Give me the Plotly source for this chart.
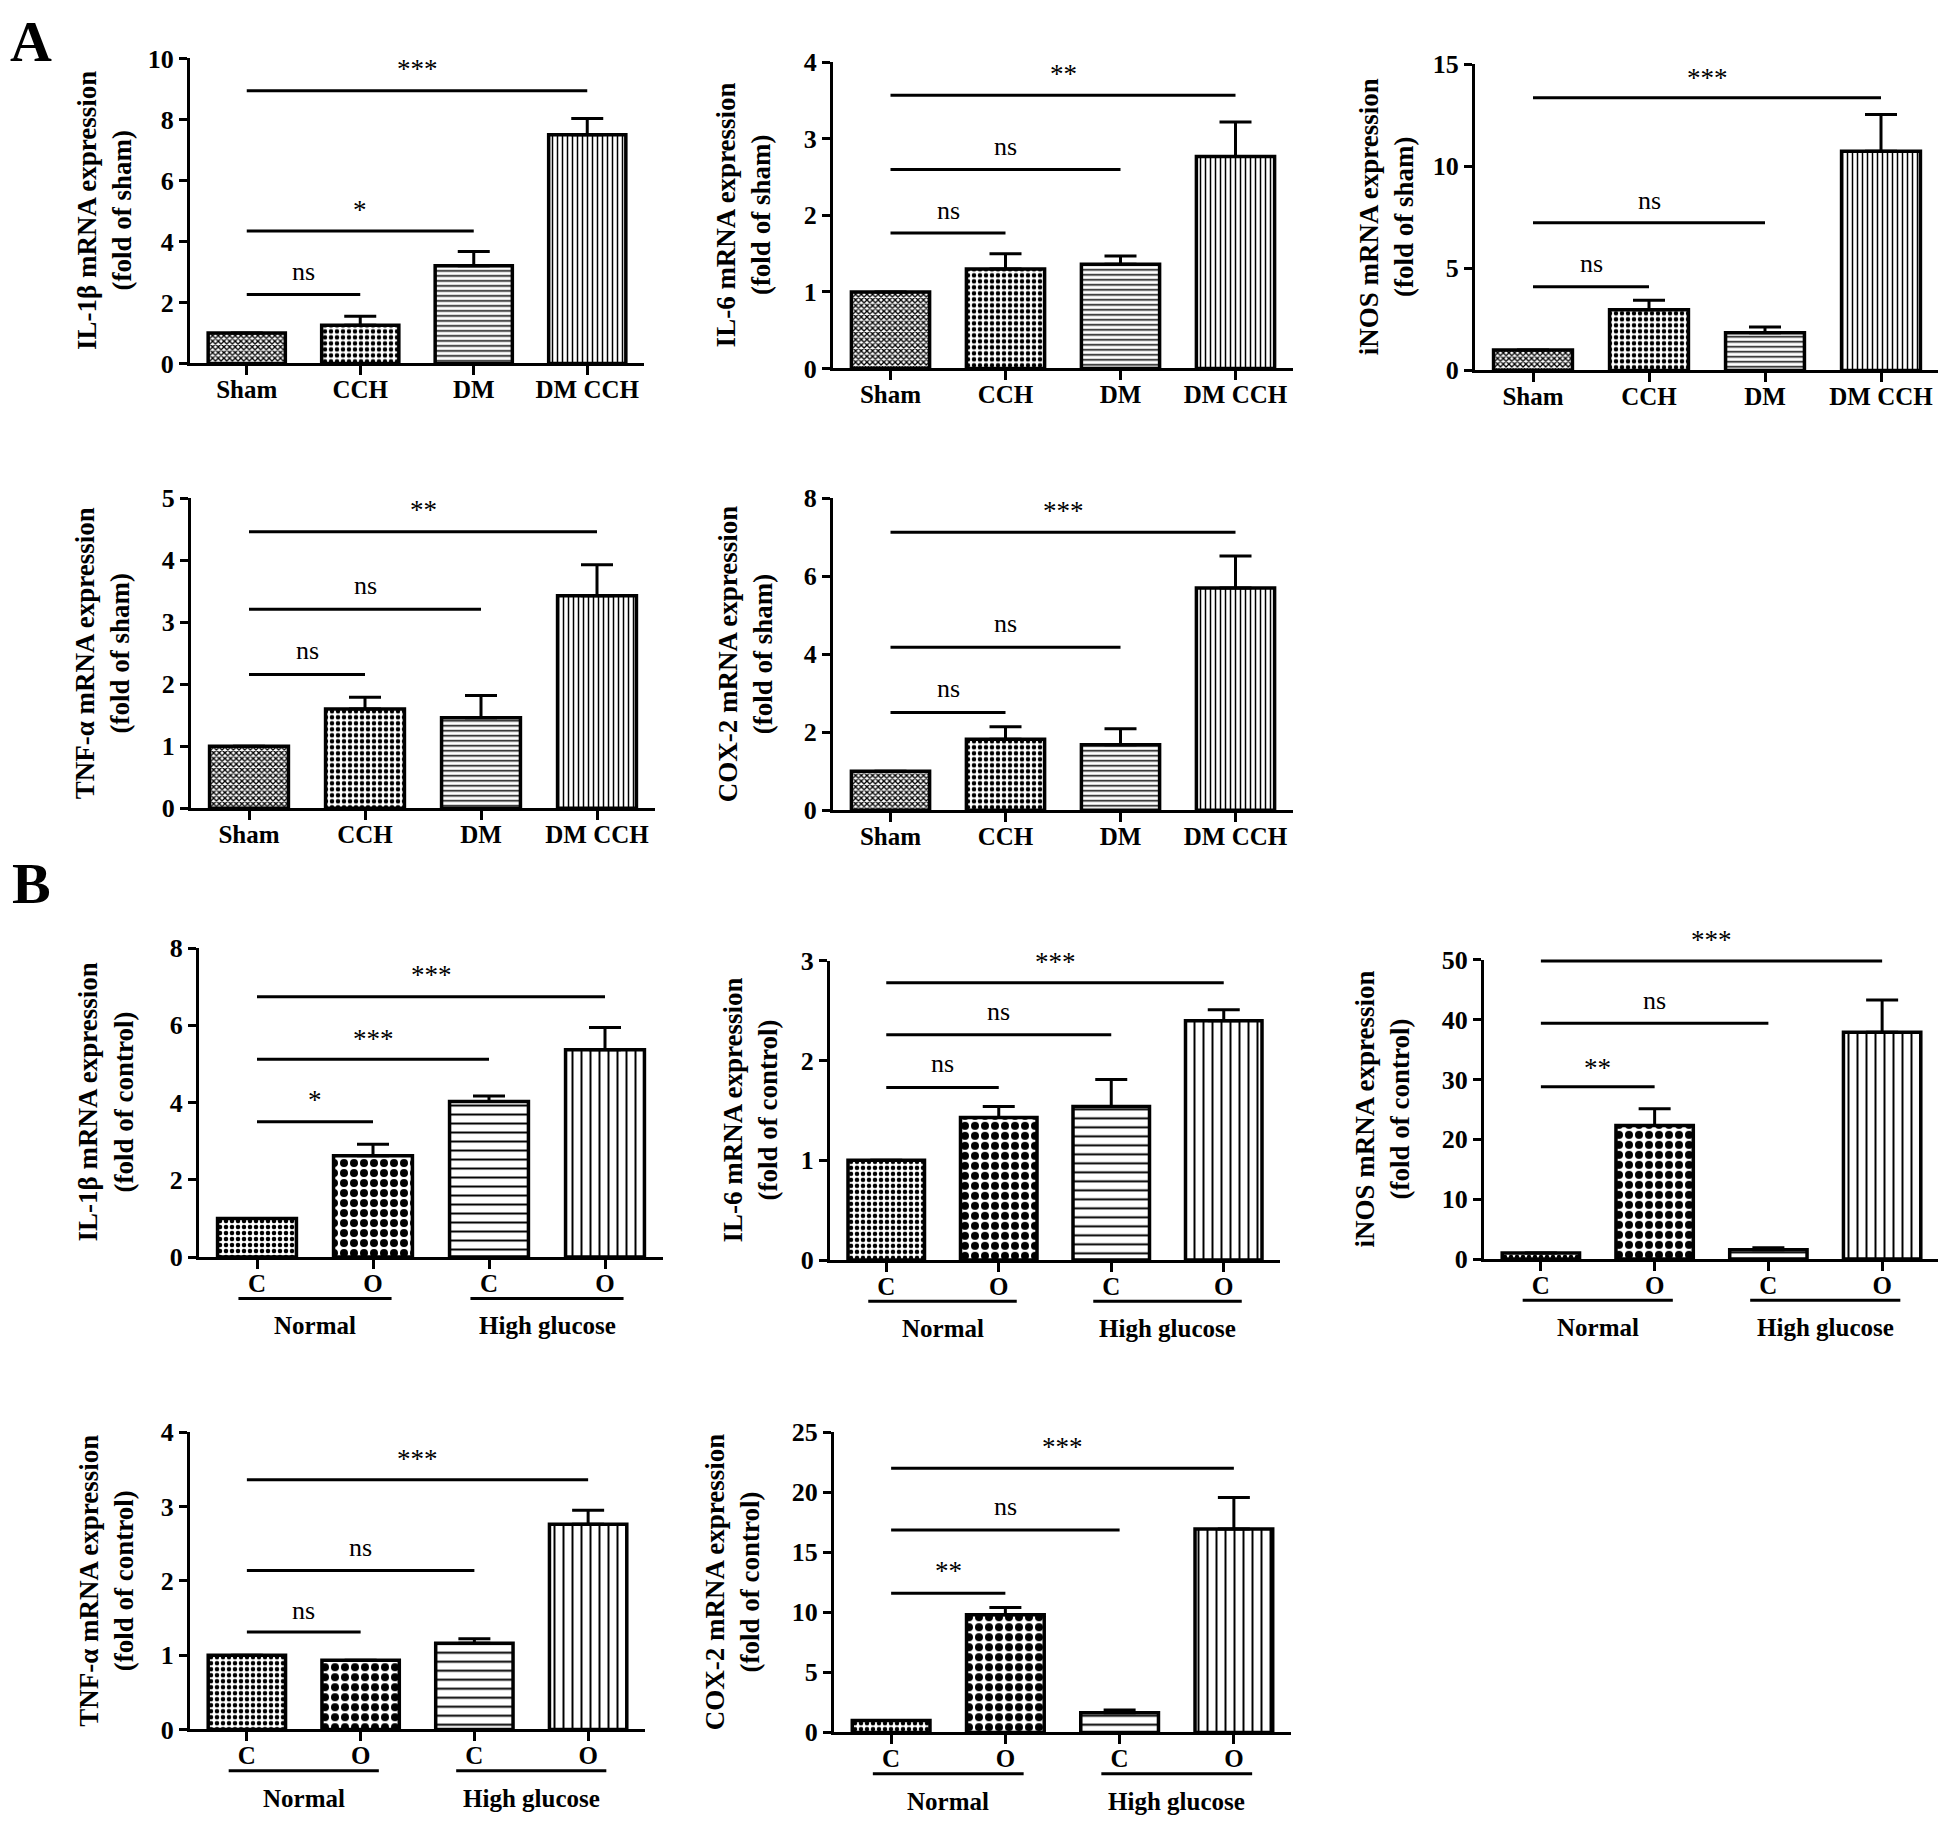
import plotly.graph_objects as go

W, H = 1946, 1825
FONT = "Liberation Serif"

# ---------------- data ----------------
cats_A = ["Sham", "CCH", "DM", "DM CCH"]
cats_B = ["C", "O", "C", "O"]
groups_B = ["Normal", "High glucose"]

il1b_A = [1.00, 1.25, 3.20, 7.50]
il1b_A_err = [0, 0.30, 0.47, 0.53]
il6_A = [1.00, 1.30, 1.36, 2.77]
il6_A_err = [0, 0.20, 0.11, 0.45]
inos_A = [1.00, 2.97, 1.85, 10.74]
inos_A_err = [0, 0.47, 0.28, 1.80]
tnf_A = [1.00, 1.60, 1.46, 3.43]
tnf_A_err = [0, 0.19, 0.36, 0.50]
cox2_A = [1.00, 1.82, 1.68, 5.70]
cox2_A_err = [0, 0.32, 0.41, 0.82]

il1b_B = [1.00, 2.62, 4.03, 5.37]
il1b_B_err = [0, 0.30, 0.14, 0.57]
il6_B = [1.00, 1.43, 1.54, 2.40]
il6_B_err = [0, 0.11, 0.27, 0.11]
inos_B = [1.00, 22.3, 1.55, 37.9]
inos_B_err = [0, 2.8, 0.32, 5.4]
tnf_B = [1.00, 0.93, 1.16, 2.76]
tnf_B_err = [0, 0, 0.06, 0.19]
cox2_B = [1.00, 9.80, 1.63, 16.94]
cox2_B_err = [0, 0.60, 0.24, 2.62]

# significance brackets: (bracket level, target bar index, label, label level)
sig_il1b_A = [(2.26, 1, "ns", 2.94), (4.34, 2, "*", 5.24), (8.94, 3, "***", 9.84)]
sig_il6_A = [(1.77, 1, "ns", 2.04), (2.60, 2, "ns", 2.88), (3.57, 3, "**", 3.93)]
sig_inos_A = [(4.10, 1, "ns", 5.13), (7.23, 2, "ns", 8.25), (13.36, 3, "***", 14.64)]
sig_tnf_A = [(2.16, 1, "ns", 2.52), (3.21, 2, "ns", 3.56), (4.46, 3, "**", 4.91)]
sig_cox2_A = [(2.51, 1, "ns", 3.07), (4.18, 2, "ns", 4.75), (7.13, 3, "***", 7.84)]
sig_il1b_B = [(3.50, 1, "*", 4.22), (5.12, 2, "***", 5.81), (6.74, 3, "***", 7.46)]
sig_il6_B = [(1.73, 1, "ns", 1.95), (2.26, 2, "ns", 2.47), (2.78, 3, "***", 3.05)]
sig_inos_B = [(28.8, 1, "**", 33.0), (39.4, 2, "ns", 42.9), (49.8, 3, "***", 54.4)]
sig_tnf_B = [(1.31, 1, "ns", 1.58), (2.14, 2, "ns", 2.42), (3.36, 3, "***", 3.72)]
sig_cox2_B = [(11.58, 1, "**", 13.9), (16.86, 2, "ns", 18.67), (22.0, 3, "***", 24.28)]

# ---------------- panel layout (pixel geometry) ----------------
panels = [
    dict(vals=il1b_A, err=il1b_A_err, sig=sig_il1b_A, cats=cats_A, ymax=10, dtick=2,
         t1="IL-1β mRNA expression", t2="(fold of sham)", xl=182, xr=636, yt=37, yb=347, tx=-85),
    dict(vals=il6_A, err=il6_A_err, sig=sig_il6_A, cats=cats_A, ymax=4, dtick=1,
         t1="IL-6 mRNA expression", t2="(fold of sham)", xl=825, xr=1285, yt=41, yb=352, tx=-90),
    dict(vals=inos_A, err=inos_A_err, sig=sig_inos_A, cats=cats_A, ymax=15, dtick=5,
         t1="iNOS mRNA expression", t2="(fold of sham)", xl=1467, xr=1931, yt=43, yb=354, tx=-89),
    dict(vals=tnf_A, err=tnf_A_err, sig=sig_tnf_A, cats=cats_A, ymax=5, dtick=1,
         t1="TNF-α mRNA expression", t2="(fold of sham)", xl=183, xr=647, yt=484, yb=799, tx=-89),
    dict(vals=cox2_A, err=cox2_A_err, sig=sig_cox2_A, cats=cats_A, ymax=8, dtick=2,
         t1="COX-2 mRNA expression", t2="(fold of sham)", xl=825, xr=1285, yt=484, yb=801, tx=-88),
    dict(vals=il1b_B, err=il1b_B_err, sig=sig_il1b_B, cats=cats_B, ymax=8, dtick=2,
         t1="IL-1β mRNA expression", t2="(fold of control)", xl=191, xr=655, yt=941, yb=1255, tx=-93),
    dict(vals=il6_B, err=il6_B_err, sig=sig_il6_B, cats=cats_B, ymax=3, dtick=1,
         t1="IL-6 mRNA expression", t2="(fold of control)", xl=822, xr=1272, yt=954, yb=1258, tx=-80),
    dict(vals=inos_B, err=inos_B_err, sig=sig_inos_B, cats=cats_B, ymax=50, dtick=10,
         t1="iNOS mRNA expression", t2="(fold of control)", xl=1476, xr=1931, yt=953, yb=1257, tx=-102),
    dict(vals=tnf_B, err=tnf_B_err, sig=sig_tnf_B, cats=cats_B, ymax=4, dtick=1,
         t1="TNF-α mRNA expression", t2="(fold of control)", xl=182, xr=637, yt=1433, yb=1735, tx=-83),
    dict(vals=cox2_B, err=cox2_B_err, sig=sig_cox2_B, cats=cats_B, ymax=25, dtick=5,
         t1="COX-2 mRNA expression", t2="(fold of control)", xl=826, xr=1283, yt=1433, yb=1738, tx=-102),
]

pat_A = dict(shape=["x", ".", "-", "|"], size=[4, 6, 5, 5], solidity=[0.55, 0.45, 0.3, 0.3],
             fgcolor="black", bgcolor="white", fillmode="replace")
pat_B = dict(shape=[".", ".", "-", "|"], size=[6, 10, 9, 9], solidity=[0.45, 0.5, 0.22, 0.22],
             fgcolor="black", bgcolor="white", fillmode="replace")

fig = go.Figure()
shapes, annos = [], []
layout = {}


def px2x(p):
    return p / W


def px2y(p):
    return 1 - p / H


for i, p in enumerate(panels, start=1):
    xa = "x" if i == 1 else f"x{i}"
    ya = "y" if i == 1 else f"y{i}"
    xkey = "xaxis" if i == 1 else f"xaxis{i}"
    ykey = "yaxis" if i == 1 else f"yaxis{i}"
    isB = p["cats"] is cats_B
    xs = list(range(len(p["vals"])))
    fig.add_trace(go.Bar(
        x=xs, y=p["vals"], width=0.68, xaxis=xa, yaxis=ya,
        marker=dict(color="white", line=dict(color="black", width=3.5),
                    pattern=pat_B if isB else pat_A),
        error_y=dict(type="data", symmetric=False, array=p["err"],
                     arrayminus=[0] * len(p["err"]), thickness=3, width=16, color="black"),
        showlegend=False, hoverinfo="skip",
    ))
    layout[xkey] = dict(
        domain=[px2x(p["xl"]), px2x(p["xr"])], anchor=ya, range=[-0.5, 3.5],
        tickmode="array", tickvals=xs, ticktext=p["cats"],
        showline=True, linewidth=3, linecolor="black", ticks="outside", ticklen=9,
        tickwidth=3, tickcolor="black", showgrid=False, zeroline=False, ticklabelstandoff=-7,
        tickfont=dict(family=FONT, size=25, color="black", weight="bold"), fixedrange=True,
    )
    layout[ykey] = dict(
        domain=[px2y(p["yb"]), px2y(p["yt"])], anchor=xa, range=[0, p["ymax"]],
        tickmode="linear", tick0=0, dtick=p["dtick"],
        showline=True, linewidth=3, linecolor="black", ticks="outside", ticklen=8,
        tickwidth=3, tickcolor="black", showgrid=False, zeroline=False,
        tickfont=dict(family=FONT, size=26, color="black", weight="bold"), fixedrange=True,
    )
    # y-axis title
    annos.append(dict(
        xref="paper", yref="paper", x=px2x(p["xl"] + p["tx"]), y=px2y((p["yt"] + p["yb"]) / 2),
        text=f"<b>{p['t1']}</b><br><b>{p['t2']}</b>", textangle=-90, showarrow=False,
        xanchor="center", yanchor="middle", font=dict(family=FONT, size=27, color="black"),
    ))
    # significance brackets
    for lvl, j, lab, tl in p["sig"]:
        shapes.append(dict(type="line", xref=xa, yref=f"{ya} domain", x0=0, x1=j,
                           y0=lvl / p["ymax"], y1=lvl / p["ymax"],
                           line=dict(color="black", width=3)))
        annos.append(dict(xref=xa, yref=f"{ya} domain", x=j / 2, y=tl / p["ymax"], text=lab,
                          showarrow=False, xanchor="center", yanchor="middle",
                          yshift=-6 if "*" in lab else 2,
                          font=dict(family=FONT, size=27 if "*" in lab else 26, color="black")))
    # group labels for panel B
    if isB:
        for g, (a, b) in enumerate([(0, 1), (2, 3)]):
            shapes.append(dict(type="line", xref=xa, yref="paper", x0=a - 0.16, x1=b + 0.16,
                               y0=px2y(p["yb"] + 42), y1=px2y(p["yb"] + 42),
                               line=dict(color="black", width=3)))
            annos.append(dict(xref=xa, yref="paper", x=(a + b) / 2, y=px2y(p["yb"] + 70),
                              text=f"<b>{groups_B[g]}</b>", showarrow=False,
                              xanchor="center", yanchor="middle",
                              font=dict(family=FONT, size=25, color="black")))

# panel letters
annos.append(dict(xref="paper", yref="paper", x=0, y=px2y(20), text="<b>A</b>",
                  showarrow=False, xanchor="left", yanchor="middle",
                  font=dict(family=FONT, size=58, color="black")))
annos.append(dict(xref="paper", yref="paper", x=px2x(2), y=px2y(875), text="<b>B</b>",
                  showarrow=False, xanchor="left", yanchor="middle",
                  font=dict(family=FONT, size=58, color="black")))

fig.update_layout(
    width=W, height=H, margin=dict(l=0, r=0, t=0, b=0),
    paper_bgcolor="white", plot_bgcolor="white", showlegend=False,
    bargap=0.3, shapes=shapes, annotations=annos, **layout,
)

fig.write_html("out.html")
